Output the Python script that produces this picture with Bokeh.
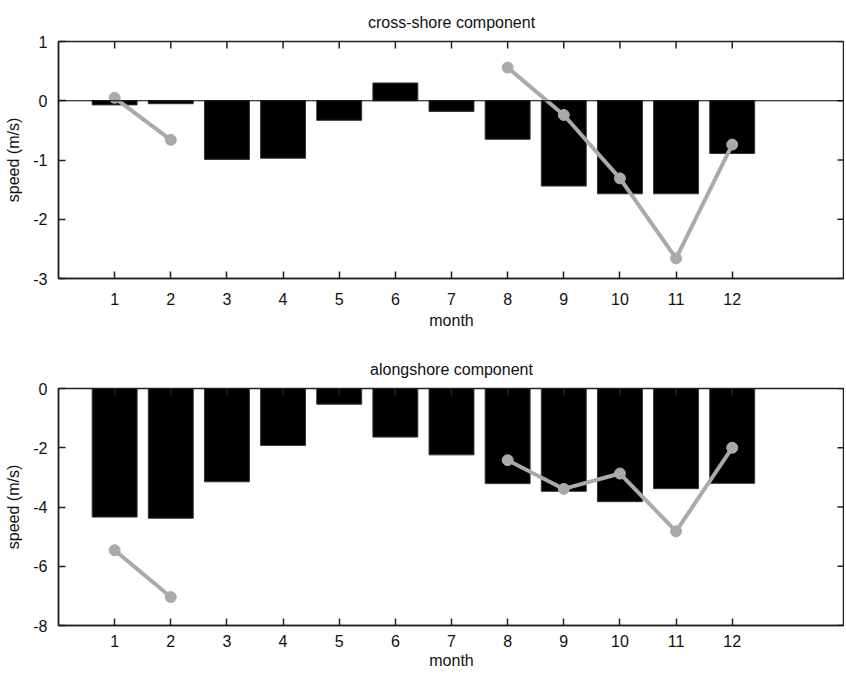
from bokeh.plotting import figure
from bokeh.models import FixedTicker, Span, ColumnDataSource, Range1d
from bokeh.layouts import column
from bokeh.embed import file_html
from bokeh.resources import INLINE

nan = float("nan")

months = [1, 2, 3, 4, 5, 6, 7, 8, 9, 10, 11, 12]
month_labels = ["1", "2", "3", "4", "5", "6", "7", "8", "9", "10", "11", "12"]

cross_bars = [-0.07, -0.05, -0.99, -0.97, -0.33, 0.30, -0.18, -0.65, -1.44, -1.57, -1.57, -0.89]
cross_line = [0.05, -0.66, nan, nan, nan, nan, nan, 0.56, -0.24, -1.31, -2.66, -0.74]
cross_yticks = [-3, -2, -1, 0, 1]
cross_ylabels = ["-3", "-2", "-1", "0", "1"]

along_bars = [-4.34, -4.38, -3.15, -1.92, -0.53, -1.64, -2.24, -3.21, -3.47, -3.82, -3.38, -3.20]
along_line = [-5.46, -7.04, nan, nan, nan, nan, nan, -2.42, -3.39, -2.87, -4.82, -2.00]
along_yticks = [-8, -6, -4, -2, 0]
along_ylabels = ["-8", "-6", "-4", "-2", "0"]

X_LO, X_HI = 0, 14
FONT = "Liberation Sans"
AX_COLOR = "#222222"
TXT_COLOR = "#111111"


def style_axis(ax):
    ax.major_tick_in = 7
    ax.major_tick_out = 0
    ax.minor_tick_line_color = None
    ax.axis_line_width = 1.5
    ax.axis_line_color = AX_COLOR
    ax.major_tick_line_color = AX_COLOR
    ax.major_tick_line_width = 1.5
    ax.major_label_text_font = FONT
    ax.major_label_text_font_size = "16px"
    ax.major_label_text_color = TXT_COLOR
    ax.axis_label_text_font = FONT
    ax.axis_label_text_font_size = "16px"
    ax.axis_label_text_font_style = "normal"
    ax.axis_label_text_color = TXT_COLOR


def make_panel(title, bars, line, y_lo, y_hi, yticks, ylabels, height, top_b, bot_b,
               zero_line, lab_standoff, axlab_standoff):
    p = figure(width=844, height=height, x_range=Range1d(X_LO, X_HI), y_range=Range1d(y_lo, y_hi),
               output_backend="svg", toolbar_location=None, title=title,
               min_border_left=58, min_border_right=0, min_border_top=top_b,
               min_border_bottom=bot_b)
    p.title.text_font = FONT
    p.title.text_font_size = "16px"
    p.title.text_font_style = "normal"
    p.title.text_color = TXT_COLOR
    p.title.align = "center"
    p.title.standoff = 21
    p.xgrid.visible = False
    p.ygrid.visible = False
    p.outline_line_color = AX_COLOR
    p.outline_line_width = 1.5

    src = ColumnDataSource(dict(x=months, bar=bars, line=line))
    p.vbar(x="x", top="bar", bottom=0, width=0.8, source=src,
           fill_color="black", line_color="#333333", line_width=1)
    if zero_line:
        p.add_layout(Span(location=0, dimension="width", line_color="black", line_width=1.2))
    p.line(x="x", y="line", source=src, line_color="#aaaaaa", line_width=4)
    p.scatter(x="x", y="line", source=src, size=11, fill_color="#aaaaaa", line_color="#aaaaaa")

    # mirrored inward ticks on the top and right edges of the frame
    p.scatter(x=months, y=[y_hi] * len(months), marker="dash", angle=1.5708, size=14,
              line_color=AX_COLOR, line_width=1.5)
    p.scatter(x=[X_HI] * len(yticks), y=yticks, marker="dash", size=14,
              line_color=AX_COLOR, line_width=1.5)

    xa = p.xaxis[0]
    xa.ticker = FixedTicker(ticks=months)
    xa.major_label_overrides = {m: l for m, l in zip(months, month_labels)}
    xa.axis_label = "month"
    style_axis(xa)
    xa.major_label_standoff = lab_standoff
    xa.axis_label_standoff = axlab_standoff

    ya = p.yaxis[0]
    ya.ticker = FixedTicker(ticks=yticks)
    ya.major_label_overrides = {t: l for t, l in zip(yticks, ylabels)}
    ya.axis_label = "speed (m/s)"
    style_axis(ya)
    ya.major_label_standoff = 11
    ya.axis_label_standoff = 8
    return p


p1 = make_panel("cross-shore component", cross_bars, cross_line, -3, 1, cross_yticks, cross_ylabels,
                height=336, top_b=41, bot_b=58, zero_line=True, lab_standoff=14, axlab_standoff=4)
p2 = make_panel("alongshore component", along_bars, along_line, -8, 0, along_yticks, along_ylabels,
                height=335, top_b=52, bot_b=46, zero_line=False, lab_standoff=9, axlab_standoff=2)

layout = column(p1, p2, spacing=0)
open("out.html", "w").write(file_html(layout, INLINE))
